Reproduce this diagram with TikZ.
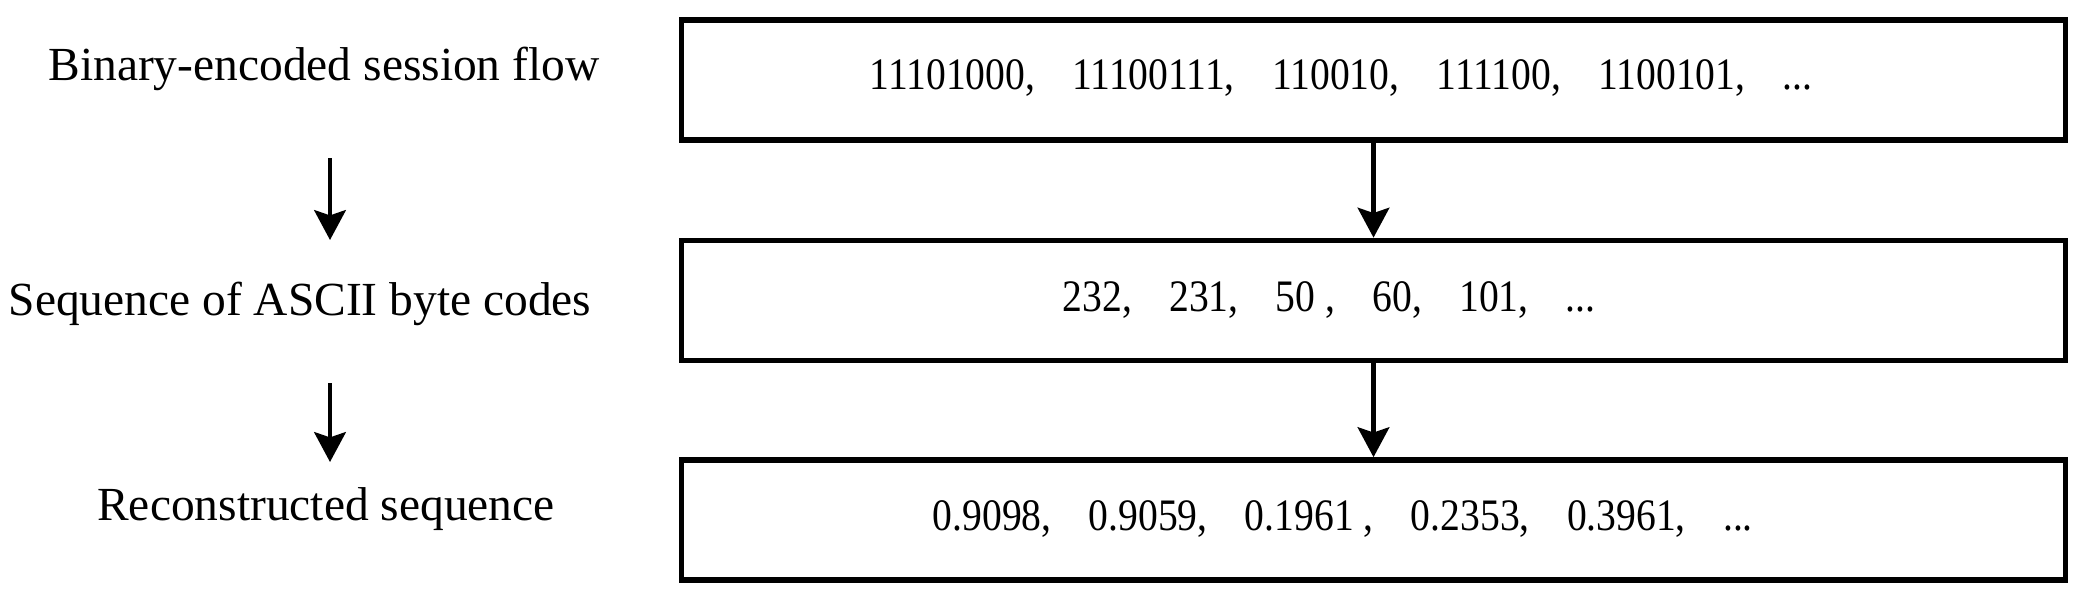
\documentclass[tikz,border=0pt]{standalone}
\usepackage{fontspec}
\setmainfont{Liberation Serif}
\newfontfamily\numfont[FakeStretch=0.88]{Liberation Serif}
\usetikzlibrary{arrows.meta,positioning}

\newcommand{\csep}{,\hspace{10.6pt}}

\tikzset{
	seqbox/.style={draw,line width=1.6pt,minimum width=13.83cm,minimum height=1.2cm,inner sep=0pt},
	seqtext/.style={anchor=west,font=\numfont\fontsize{12.8}{14}\selectfont,inner sep=0pt},
	steplabel/.style={font=\fontsize{13.5}{16}\selectfont,inner sep=0pt},
	flow/.style={-{Stealth[length=8.5pt,width=9pt,inset=1.5pt]},line width=1.2pt}
}

\begin{document}
\begin{tikzpicture}[x=0.01cm,y=-0.01cm]
	\useasboundingbox (0,0) rectangle (2088,602);
	
	% boxes on the right
	\node[seqbox] (b1) at (1373.5,80) {};
	\node[seqbox] (b2) at (1373.5,300.5) {};
	\node[seqbox] (b3) at (1373.5,520) {};
	
	\node[seqtext] (t1) at (869,78) {11101000\csep 11100111\csep 110010\csep 111100\csep 1100101\csep ...};
	\node[seqtext] (t2) at (1062,300) {232\csep 231\csep 50 ,\hspace{10.6pt}60\csep 101\csep ...};
	\node[seqtext] (t3) at (932,519) {0.9098\csep 0.9059\csep 0.1961 ,\hspace{10.6pt}0.2353\csep 0.3961\csep ...};
	
	\draw[flow] (b1) -- (b2);
	\draw[flow] (b2) -- (b3);
	
	% steps on the left
	\node[steplabel] (l1) at (324,69) {Binary-encoded session flow};
	\node[steplabel] (l2) at (300,304) {Sequence of ASCII byte codes};
	\node[steplabel] (l3) at (326,509) {Reconstructed sequence};
	
	\coordinate (a1) at (330,158);
	\coordinate (a2) at (330,240);
	\coordinate (a3) at (330,383);
	\coordinate (a4) at (330,462);
	\draw[flow] (a1) -- (a2);
	\draw[flow] (a3) -- (a4);
\end{tikzpicture}
\end{document}
